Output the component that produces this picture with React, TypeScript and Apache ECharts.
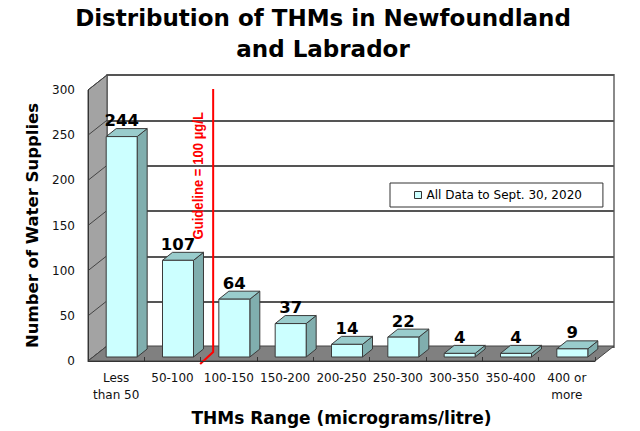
import React, { useEffect, useRef } from 'react';
import * as echarts from 'echarts';

// data
const categories = ['Less\nthan 50', '50-100', '100-150', '150-200', '200-250', '250-300', '300-350', '350-400', '400 or\nmore'];
const supplies = [244, 107, 64, 37, 14, 22, 4, 4, 9];
const yTicks = [0, 50, 100, 150, 200, 250, 300];
const seriesName = 'All Data to Sept. 30, 2020';
const guidelineLabel = 'Guideline = 100 µg/L';
const guidelineIndex = 2; // first category above the 100 µg/L guideline
const guidelineLabelValue = 205;

const FONT = '"DejaVu Sans", Verdana, sans-serif';
// 3D look: depth of the floor and of each bar
const DX = 19;
const DY = -15;
const BX = 10;
const BY = -8;
const SET_X = 5.5;
const SET_Y = -4;

const App = () => {
  const chartRef = useRef<HTMLDivElement>(null);

  useEffect(() => {
    if (!chartRef.current) return;
    const chart = echarts.init(chartRef.current, null, { renderer: 'svg' });
    const yMax = yTicks[yTicks.length - 1];

    const renderWalls = (_params: any, api: any) => {
      const band = api.size([1, 0])[0];
      const x0 = api.coord([0, 0])[0] - band / 2;
      const x1 = x0 + band * categories.length;
      const y0 = api.coord([0, 0])[1];
      const yTop = api.coord([0, yMax])[1];
      const children: any[] = [];
      children.push({
        type: 'polygon',
        shape: { points: [[x0, yTop], [x0 + DX, yTop + DY], [x0 + DX, y0 + DY], [x0, y0]] },
        style: { fill: '#a3a3a3', stroke: '#444', lineWidth: 1 },
      });
      yTicks.forEach((v) => {
        const y = api.coord([0, v])[1];
        children.push({
          type: 'line',
          shape: { x1: x0, y1: y, x2: x0 + DX, y2: y + DY },
          style: { stroke: '#444', lineWidth: 1 },
        });
      });
      children.push({
        type: 'polygon',
        shape: { points: [[x0, y0], [x0 + DX, y0 + DY], [x1 + DX, y0 + DY], [x1, y0]] },
        style: { fill: '#808080', stroke: '#444', lineWidth: 1 },
      });
      // red guideline between 50-100 and 100-150
      const gx = x0 + band * guidelineIndex;
      children.push({
        type: 'polyline',
        shape: { points: [[gx - 0.5, y0 + 3], [gx + 12.5, y0 - 9], [gx + 12.5, yTop - 1]] },
        style: { stroke: '#ff0000', lineWidth: 2, fill: 'none' },
        z2: 20,
      });
      children.push({
        type: 'text',
        x: gx - 3,
        y: api.coord([0, guidelineLabelValue])[1],
        rotation: Math.PI / 2,
        scaleX: 0.875,
        style: {
          text: guidelineLabel,
          fill: '#ff0000',
          font: 'bold 15px "Liberation Sans", Arial, sans-serif',
          align: 'center',
          verticalAlign: 'middle',
        },
        z2: 20,
      });
      return { type: 'group', children };
    };

    const renderBar = (_params: any, api: any) => {
      const i = api.value(0);
      const v = api.value(1);
      const band = api.size([1, 0])[0];
      const [cx, yv] = api.coord([i, v]);
      const y0 = api.coord([i, 0])[1];
      const w = band * 0.55;
      const l = cx + SET_X - w / 2;
      const r = l + w;
      const top = yv + SET_Y;
      const bot = y0 + SET_Y;
      const edge = { stroke: '#3a3a3a', lineWidth: 1 };
      return {
        type: 'group',
        children: [
          {
            type: 'polygon',
            shape: { points: [[r, top], [r + BX, top + BY], [r + BX, bot + BY], [r, bot]] },
            style: { fill: '#80aeae', ...edge },
          },
          {
            type: 'polygon',
            shape: { points: [[l, top], [l + BX, top + BY], [r + BX, top + BY], [r, top]] },
            style: { fill: '#99cccc', ...edge },
          },
          {
            type: 'rect',
            shape: { x: l, y: top, width: w, height: bot - top },
            style: { fill: '#ccffff', ...edge },
          },
          {
            type: 'text',
            x: l + w / 2,
            y: top + BY - 8,
            style: {
              text: String(v),
              fill: '#000',
              font: `bold 16.5px ${FONT}`,
              align: 'center',
              verticalAlign: 'middle',
            },
          },
        ],
      };
    };

    const option: any = {
      animation: false,
      backgroundColor: '#fff',
      graphic: [
        {
          type: 'text',
          x: 323,
          y: 2,
          style: {
            text: 'Distribution of THMs in Newfoundland\nand Labrador',
            font: `bold 23px ${FONT}`,
            fill: '#000',
            align: 'center',
            verticalAlign: 'top',
            lineHeight: 31,
          },
        },
      ],
      legend: {
        left: 390,
        top: 183,
        padding: [6, 21, 6, 24],
        backgroundColor: '#fff',
        borderColor: '#333',
        borderWidth: 1,
        itemWidth: 7,
        itemHeight: 7,
        icon: 'rect',
        selectedMode: false,
        data: [{ name: seriesName, itemStyle: { color: '#ccffff', borderColor: '#333', borderWidth: 1 } }],
        textStyle: { fontSize: 12, fontFamily: FONT, color: '#000' },
      },
      grid: [
        { left: 88, right: 45, top: 90, bottom: 69, show: false },
        {
          left: 88 + DX,
          right: 45 - DX,
          top: 90 + DY,
          bottom: 69 - DY,
          show: true,
          backgroundColor: '#fff',
          borderColor: '#8a8a8a',
          borderWidth: 2,
        },
      ],
      xAxis: [
        {
          gridIndex: 0,
          type: 'category',
          data: categories,
          z: 10,
          axisLine: { lineStyle: { color: '#333', width: 1 } },
          axisTick: { show: true, inside: true, length: 4, lineStyle: { color: '#333' } },
          axisLabel: { interval: 0, margin: 8, fontSize: 12, lineHeight: 17, color: '#111', fontFamily: FONT },
          name: 'THMs Range (micrograms/litre)',
          nameLocation: 'middle',
          nameGap: 48,
          nameTextStyle: { fontSize: 17, fontWeight: 'bold', color: '#000', fontFamily: FONT },
        },
        { gridIndex: 1, type: 'category', data: categories, show: false },
      ],
      yAxis: [
        {
          gridIndex: 0,
          type: 'value',
          min: 0,
          max: yMax,
          interval: 50,
          z: 10,
          axisLine: { show: true, lineStyle: { color: '#333' } },
          axisTick: { show: false },
          splitLine: { show: false },
          axisLabel: { margin: 13, fontSize: 12, color: '#111', fontFamily: FONT },
          name: 'Number of Water Supplies',
          nameLocation: 'middle',
          nameGap: 45,
          nameTextStyle: { fontSize: 16.5, fontWeight: 'bold', color: '#000', fontFamily: FONT },
        },
        {
          gridIndex: 1,
          type: 'value',
          min: 0,
          max: yMax,
          interval: 50,
          axisLine: { show: false },
          axisTick: { show: false },
          axisLabel: { show: false },
          splitLine: { show: true, lineStyle: { color: '#555', width: 2 } },
        },
      ],
      series: [
        {
          type: 'custom',
          name: 'walls',
          xAxisIndex: 0,
          yAxisIndex: 0,
          data: [[0, 0]],
          renderItem: renderWalls,
          silent: true,
          z: 1,
        },
        {
          type: 'custom',
          name: seriesName,
          xAxisIndex: 0,
          yAxisIndex: 0,
          data: supplies.map((v, i) => [i, v]),
          encode: { x: 0, y: 1 },
          renderItem: renderBar,
          itemStyle: { color: '#ccffff' },
          z: 3,
        },
      ],
    };
    chart.setOption(option);

    return () => {
      chart.dispose();
    };
  }, []);

  return <div ref={chartRef} style={{ position: 'fixed', left: 0, top: 0, width: 640, height: 431 }} />;
};

export default App;
